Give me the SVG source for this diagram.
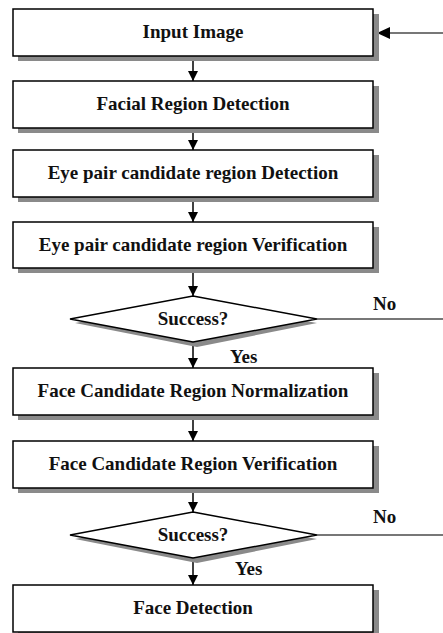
<svg xmlns="http://www.w3.org/2000/svg" width="443" height="633" viewBox="0 0 443 633">
<style>
.box{fill:#fff;stroke:#000;stroke-width:1.5}
.sh{fill:#8a8a8a}
.t{text-anchor:middle}
.c{stroke:#000;stroke-width:1.5;fill:none}
.g{stroke:#777;stroke-width:2;fill:none}
</style>
<defs>
<marker id="ah" viewBox="0 0 10 10" refX="10" refY="5" markerWidth="10" markerHeight="10" markerUnits="userSpaceOnUse" orient="auto">
<path d="M0,0 L10,5 L0,10 Z" fill="#000"/>
</marker>
</defs>
<g font-family="Liberation Serif, Times New Roman, serif" font-weight="bold" font-size="19" fill="#111">
<g id="connectors">
<line class="c" x1="193" y1="56" x2="193" y2="81" marker-end="url(#ah)"/>
<line class="c" x1="193" y1="128" x2="193" y2="150" marker-end="url(#ah)"/>
<line class="c" x1="193" y1="197" x2="193" y2="222" marker-end="url(#ah)"/>
<line class="c" x1="193" y1="268" x2="193" y2="296" marker-end="url(#ah)"/>
<line class="c" x1="193" y1="342" x2="193" y2="368" marker-end="url(#ah)"/>
<line class="c" x1="193" y1="415" x2="193" y2="441" marker-end="url(#ah)"/>
<line class="c" x1="193" y1="488" x2="193" y2="512" marker-end="url(#ah)"/>
<line class="c" x1="193" y1="558" x2="193" y2="585" marker-end="url(#ah)"/>
<line class="g" x1="317" y1="319" x2="443" y2="319"/>
<line class="g" x1="317" y1="535" x2="443" y2="535"/>
<line class="g" x1="443" y1="33" x2="388" y2="33"/>
<path d="M377,33 L390,27 L390,39 Z" fill="#000"/>
<text x="373" y="310">No</text>
<text x="230" y="363">Yes</text>
<text x="373" y="523">No</text>
<text x="235" y="575">Yes</text>
</g>
<g id="n1">
<rect class="sh" x="18" y="14" width="361" height="47"/>
<rect class="box" x="13" y="9" width="360" height="47"/>
<text class="t" x="193" y="38">Input Image</text>
</g>
<g id="n2">
<rect class="sh" x="18" y="86" width="361" height="47"/>
<rect class="box" x="13" y="81" width="360" height="47"/>
<text class="t" x="193" y="110">Facial Region Detection</text>
</g>
<g id="n3">
<rect class="sh" x="18" y="155" width="361" height="47"/>
<rect class="box" x="13" y="150" width="360" height="47"/>
<text class="t" x="193" y="179">Eye pair candidate region Detection</text>
</g>
<g id="n4">
<rect class="sh" x="18" y="227" width="361" height="46"/>
<rect class="box" x="13" y="222" width="360" height="46"/>
<text class="t" x="193" y="251">Eye pair candidate region Verification</text>
</g>
<g id="d1">
<polygon class="sh" points="75,323 193,301 317,323 197,347"/>
<polygon class="box" points="193,296 317,319 193,342 70,319"/>
<text class="t" x="193" y="325">Success?</text>
</g>
<g id="n5">
<rect class="sh" x="18" y="373" width="361" height="47"/>
<rect class="box" x="13" y="368" width="360" height="47"/>
<text class="t" x="193" y="397">Face Candidate Region Normalization</text>
</g>
<g id="n6">
<rect class="sh" x="18" y="446" width="361" height="47"/>
<rect class="box" x="13" y="441" width="360" height="47"/>
<text class="t" x="193" y="470">Face Candidate Region Verification</text>
</g>
<g id="d2">
<polygon class="sh" points="75,539 193,517 317,539 197,563"/>
<polygon class="box" points="193,512 317,535 193,558 70,535"/>
<text class="t" x="193" y="541">Success?</text>
</g>
<g id="n7">
<rect class="sh" x="18" y="590" width="361" height="47"/>
<rect class="box" x="13" y="585" width="360" height="47"/>
<text class="t" x="193" y="614">Face Detection</text>
</g>
</g>
</svg>
